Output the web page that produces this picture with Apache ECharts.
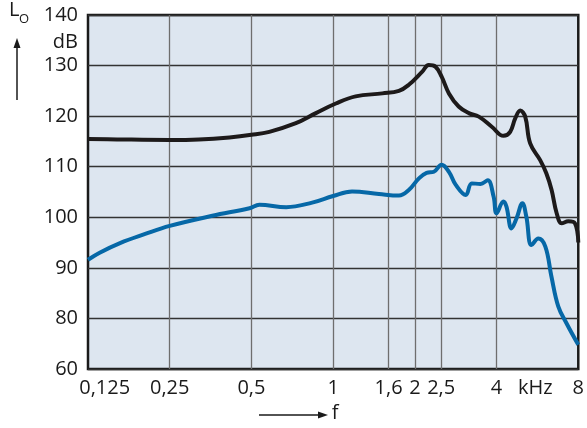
<!DOCTYPE html>
<html><head><meta charset="utf-8">
<script src="https://cdn.jsdelivr.net/npm/echarts@6/dist/echarts.min.js"></script>
<style>html,body{margin:0;padding:0;background:#fff}#c{width:587px;height:428px}</style>
</head><body><div id="c"></div>
<script>
// frequencies in kHz
const blackFreq = [0.125,0.16,0.25,0.32,0.415,0.5,0.582,0.729,0.864,1.023,1.21,1.517,1.747,1.90,2.13,2.25,2.38,2.51,2.67,2.90,3.16,3.44,3.84,4.24,4.49,4.69,4.89,5.10,5.32,5.79,6.10,6.38,6.66,6.95,7.35,7.78,8.0];
const blackLevel = [115.5,115.4,115.3,115.4,115.8,116.3,116.9,118.6,120.6,122.5,123.9,124.5,125.0,126.2,128.8,130.1,129.8,127.8,124.5,121.9,120.6,119.9,117.9,116.1,116.9,119.6,121.1,119.9,114.6,111.3,108.7,105.4,100.8,98.8,99.2,98.8,95.0];
const blueFreq = [0.125,0.138,0.164,0.203,0.25,0.359,0.492,0.535,0.672,0.837,1.0,1.174,1.475,1.747,1.90,2.07,2.21,2.35,2.51,2.67,2.83,3.08,3.24,3.49,3.71,3.90,4.0,4.24,4.35,4.54,4.74,4.98,5.15,5.38,5.70,6.05,6.37,6.75,7.23,8.0];
const blueLevel = [91.6,93.0,94.9,96.7,98.3,100.3,101.8,102.5,102.0,102.9,104.2,105.1,104.6,104.3,105.4,107.7,108.8,109.0,110.4,109.0,106.4,104.4,106.7,106.6,107.3,104.1,100.8,103.1,102.1,97.8,99.8,102.8,100.1,94.5,95.8,94.2,88.3,82.4,79.1,74.8];
const gridFreqs = [0.25,0.5,1,1.6,2,2.5,4];
const xLabelFreqs = [0.144,0.25,0.5,1,1.6,2,2.5,4,5.56,8];
const xLabelTexts = ['0,125','0,25','0,5','1','1,6','2','2,5','4','kHz','8'];
const yTickValues = [70,80,90,100,110,120,130,140];
const yTickTexts = ['60','80','90','100','110','120','130','140'];

const lg = Math.log2;
const toPairs = (fs, vs) => fs.map((f, i) => [lg(f), vs[i]]);
const FONT = '"Open Sans", "Noto Sans", sans-serif';

const chart = echarts.init(document.getElementById('c'));
chart.setOption({
  animation: false,
  grid: {left: 88, right: 8, top: 15, bottom: 59, show: true, backgroundColor: '#dde6f0', borderColor: '#1a1a1a', borderWidth: 2.5},
  xAxis: {
    type: 'value', min: lg(0.125), max: lg(8),
    axisLine: {show: false},
    axisTick: {show: false, customValues: gridFreqs.map(lg)},
    splitLine: {show: true, lineStyle: {color: '#6e6e6e', width: 1.3}},
    axisLabel: {
      customValues: xLabelFreqs.map(lg), margin: 9, fontSize: 20, color: '#1a1a1a', fontFamily: FONT,
      formatter: v => { const i = xLabelFreqs.findIndex(f => Math.abs(lg(f) - v) < 1e-6); return i >= 0 ? xLabelTexts[i] : ''; }
    }
  },
  yAxis: {
    type: 'value', min: 70, max: 140, interval: 10,
    axisLine: {show: false}, axisTick: {show: false},
    splitLine: {lineStyle: {color: '#333', width: 1.3}},
    axisLabel: {
      margin: 10, fontSize: 20, color: '#1a1a1a', fontFamily: FONT,
      formatter: v => { const i = yTickValues.indexOf(v); return i >= 0 ? yTickTexts[i] : ''; }
    }
  },
  series: [
    {type: 'line', data: toPairs(blackFreq, blackLevel), smooth: 0.4, showSymbol: false, lineStyle: {color: '#1d1a1a', width: 4}},
    {type: 'line', data: toPairs(blueFreq, blueLevel), smooth: 0.4, showSymbol: false, lineStyle: {color: '#0668a7', width: 4}}
  ],
  graphic: [
    {type: 'text', left: 9, top: 0, style: {text: 'L', fontSize: 20, fontFamily: FONT, fill: '#1a1a1a'}},
    {type: 'text', left: 19, top: 13, style: {text: 'O', fontSize: 13, fontFamily: FONT, fill: '#1a1a1a'}},
    {type: 'line', shape: {x1: 17, y1: 100, x2: 17, y2: 46}, style: {stroke: '#1a1a1a', lineWidth: 1.5}},
    {type: 'polygon', shape: {points: [[17, 38], [13.5, 48], [20.5, 48]]}, style: {fill: '#1a1a1a'}},
    {type: 'text', x: 78, y: 42, style: {text: 'dB', fontSize: 20, fontFamily: FONT, fill: '#1a1a1a', align: 'right', verticalAlign: 'middle'}},
    {type: 'line', shape: {x1: 259, y1: 415, x2: 320, y2: 415}, style: {stroke: '#1a1a1a', lineWidth: 1.5}},
    {type: 'polygon', shape: {points: [[328, 415], [318, 411.5], [318, 418.5]]}, style: {fill: '#1a1a1a'}},
    {type: 'text', x: 335, y: 413, style: {text: 'f', fontSize: 20, fontFamily: FONT, fill: '#1a1a1a', align: 'center', verticalAlign: 'middle'}}
  ]
});
</script></body></html>
